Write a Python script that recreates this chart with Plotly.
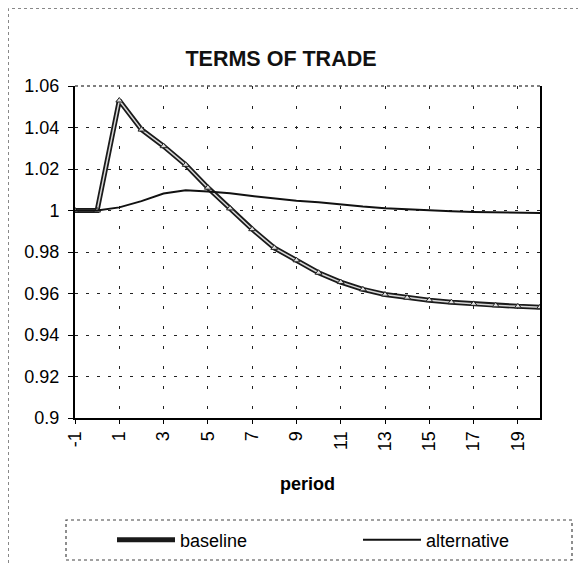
import plotly.graph_objects as go

periods = list(range(-1, 21))
baseline = [1.0, 1.0, 1.053, 1.039, 1.031, 1.022, 1.011, 1.001, 0.991, 0.982,
            0.976, 0.970, 0.9655, 0.962, 0.9595, 0.958, 0.9568, 0.9558,
            0.955, 0.9543, 0.9538, 0.9534]
alternative = [1.0, 1.0, 1.0015, 1.0045, 1.0082, 1.0097, 1.0092, 1.0083, 1.007,
               1.0059, 1.0047, 1.004, 1.0029, 1.0019, 1.0011, 1.0005, 1.0,
               0.9996, 0.9993, 0.9991, 0.9989, 0.9988]
y_ticks = [0.9, 0.92, 0.94, 0.96, 0.98, 1.0, 1.02, 1.04, 1.06]
y_tick_text = ["0.9", "0.92", "0.94", "0.96", "0.98", "1", "1.02", "1.04", "1.06"]
x_ticks = list(range(-1, 20, 2))
x_tick_text = [str(v) for v in x_ticks]

FONT = "Liberation Sans, Arial, sans-serif"
OFF = 8  # page body margin
W, H = 578, 557
L, R, T, B = 67, 46, 78, 147
PW, PH = W - L - R, H - T - B


def px(x):
    return (x - OFF - L) / PW


def py(y):
    return (H - B - (y - OFF)) / PH


fig = go.Figure()
fig.add_trace(go.Scatter(x=periods, y=baseline, name="baseline", mode="lines",
                         line=dict(color="#1a1a1a", width=5), legend="legend"))
fig.add_trace(go.Scatter(x=periods, y=baseline, name="baseline", mode="lines+markers",
                         line=dict(color="#d8d8d8", width=1.5), showlegend=False,
                         marker=dict(symbol="triangle-up", size=6, color="#e0e0e0",
                                     line=dict(color="#222", width=1))))
fig.add_trace(go.Scatter(x=periods, y=alternative, name="alternative", mode="lines",
                         line=dict(color="#111", width=2), legend="legend2"))

fig.update_layout(
    width=W, height=H,
    margin=dict(l=L, r=R, t=T, b=B, autoexpand=False),
    paper_bgcolor="white", plot_bgcolor="white",
    font=dict(family=FONT, size=18, color="black"),
    title=dict(text="<b>TERMS OF TRADE</b>", x=(281 - OFF) / W, xref="container",
               xanchor="center", y=1 - (58 - OFF) / H, yref="container", yanchor="middle",
               font=dict(family=FONT, size=21.5, color="#111")),
    xaxis=dict(range=[-1, 20], tickvals=x_ticks, ticktext=x_tick_text, tickangle=-90,
               showline=True, linecolor="black", linewidth=2,
               ticks="outside", ticklen=4, tickcolor="black",
               showgrid=True, gridcolor="#222", gridwidth=1, griddash="3px,17px",
               zeroline=False, automargin=False,
               title=dict(text="<b>period</b>", font=dict(size=18), standoff=27)),
    yaxis=dict(range=[0.9, 1.06], tickvals=y_ticks, ticktext=y_tick_text,
               showline=True, linecolor="black", linewidth=2, mirror=True,
               ticks="outside", ticklen=5, tickcolor="black", automargin=False,
               ticklabelstandoff=5,
               showgrid=True, gridcolor="#222", gridwidth=1, griddash="3px,8px",
               zeroline=False),
    legend=dict(orientation="h", x=px(112), y=py(540), xanchor="left", yanchor="middle",
                itemwidth=58, bgcolor="rgba(0,0,0,0)", font=dict(size=18)),
    legend2=dict(orientation="h", x=px(358), y=py(540), xanchor="left", yanchor="middle",
                 itemwidth=58, bgcolor="rgba(0,0,0,0)", font=dict(size=18)),
    showlegend=True,
    shapes=[
        dict(type="line", xref="paper", yref="paper", x0=0, x1=1, y0=1, y1=1,
             line=dict(color="#555", width=1.5, dash="dot")),
        dict(type="rect", xref="paper", yref="paper", x0=px(66), x1=px(572),
             y0=py(560), y1=py(520), line=dict(color="#444", width=1.2, dash="dot")),
        dict(type="rect", xref="paper", yref="paper", x0=px(8.5), x1=px(583),
             y0=py(570), y1=py(8.5), line=dict(color="#888", width=1, dash="dot")),
    ],
)

fig.write_html("out.html")
